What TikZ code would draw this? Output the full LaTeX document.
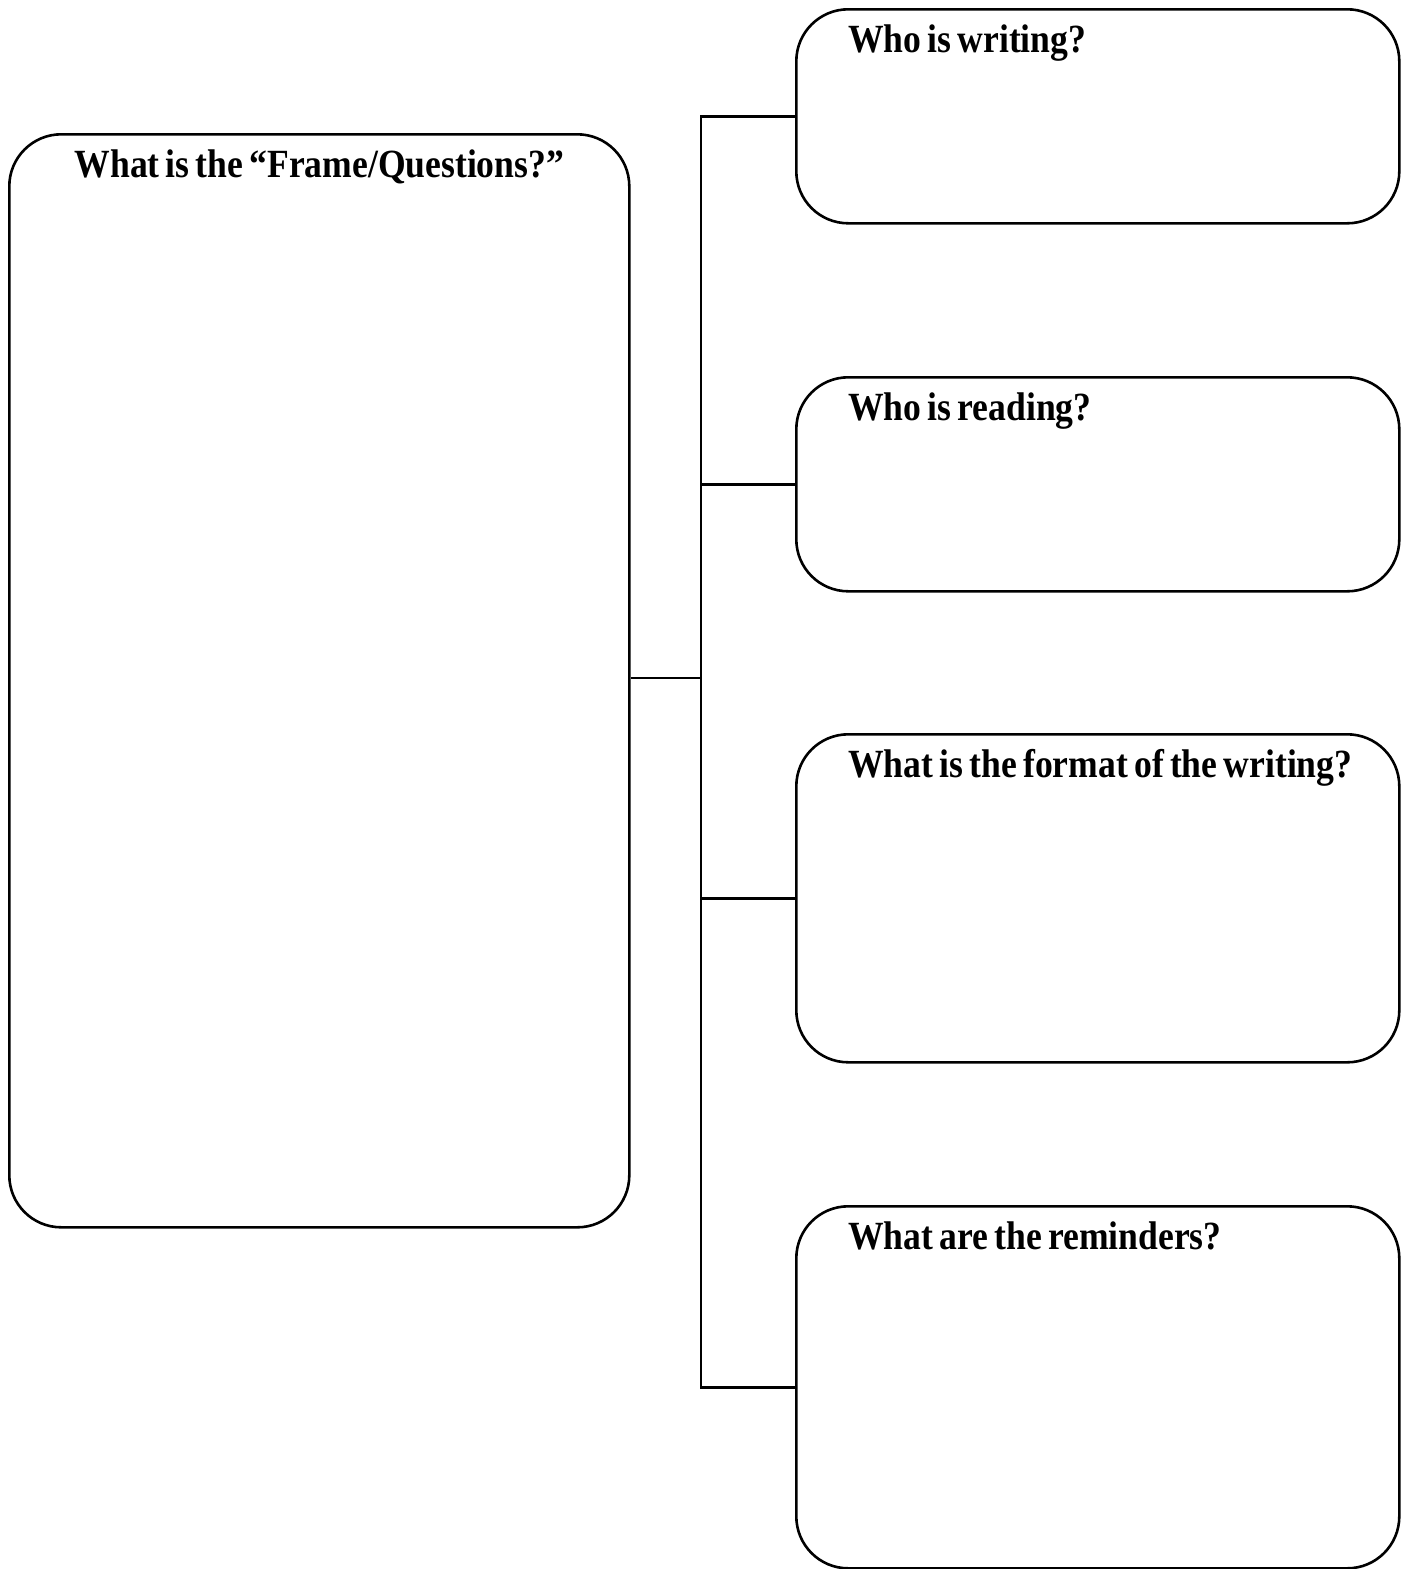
\documentclass[tikz,border=0pt]{standalone}
\usepackage{fontspec}
\setmainfont{Liberation Serif}[FakeStretch=0.89, WordSpace=0.7]
\begin{document}
\begin{tikzpicture}[x=1pt, y=-1pt, line width=2.6pt]
    \tikzstyle{box} = [draw, rectangle, rounded corners=52pt, inner sep=0pt, anchor=north west]
    \tikzstyle{title} = [inner sep=0pt, font=\fontsize{40}{48}\selectfont\bfseries]
    \useasboundingbox (0,0) rectangle (1405,1569);
    % frame box on the left
    \node[box, minimum width=620pt, minimum height=1093pt] (frame) at (8,133) {};
    \node[title, anchor=base] (frametitle) at ([yshift=-44pt]frame.north) {What is the ``Frame/Questions?''};
    % the four question boxes
    \node[box, minimum width=603pt, minimum height=214pt] (writer) at (795,8) {};
    \node[box, minimum width=603pt, minimum height=214pt] (reader) at (795,376) {};
    \node[box, minimum width=603pt, minimum height=328pt] (format) at (795,733) {};
    \node[box, minimum width=603pt, minimum height=362pt] (reminder) at (795,1205) {};
    \node[title, anchor=base west] (writertitle) at ([xshift=52pt, yshift=-44pt]writer.north west) {Who is writing?};
    \node[title, anchor=base west] (readertitle) at ([xshift=52pt, yshift=-44pt]reader.north west) {Who is reading?};
    \node[title, anchor=base west] (formattitle) at ([xshift=52pt, yshift=-44pt]format.north west) {What is the format of the writing?};
    \node[title, anchor=base west] (remindertitle) at ([xshift=52pt, yshift=-44pt]reminder.north west) {What are the reminders?};
    % connectors
    \coordinate (hub) at (701,678);
    \draw (frame.east |- hub) -- (hub);
    \draw (writer.west) -- (writer.west -| hub) -- (reminder.west -| hub) -- (reminder.west);
    \foreach \b in {reader, format}
        \draw (\b.west) -- (\b.west -| hub);
\end{tikzpicture}
\end{document}
